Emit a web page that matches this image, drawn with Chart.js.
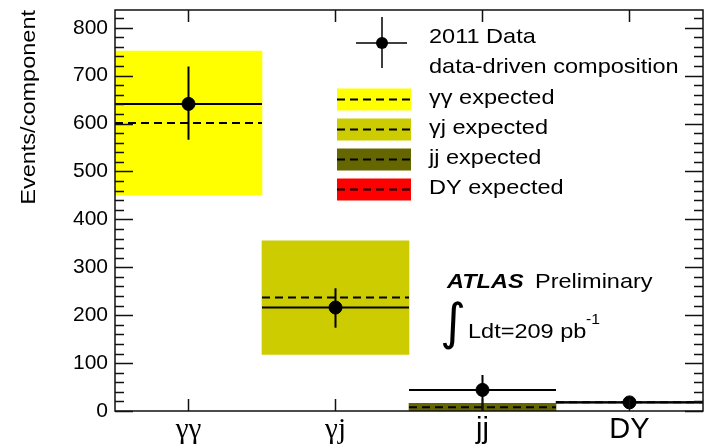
<!DOCTYPE html>
<html>
<head>
<meta charset="utf-8">
<script src="https://cdn.jsdelivr.net/npm/chart.js@4"></script>
<style>
  body { margin: 0; background: #fff; }
  #wrap { width: 704px; height: 445px; }
</style>
</head>
<body>
<div id="wrap"><canvas id="compChart"></canvas></div>
<script>
// values
const categories = ["γγ", "γj", "jj", "DY"];
const dataValues = [641, 216, 44, 18];
const dataErrLow = [566, 174, 0, 14];
const dataErrHigh = [719, 256, 75, 22];
const expectedValues = [601, 237, 8, 18.5];
const bandLow = [451, 118, 0, 17];
const bandHigh = [751, 355, 16, 20];
const bandColors = ["#ffff00", "#cccc00", "#666600", "#ff0000"];
const legendLabels = ["2011 Data", "data-driven composition", "γγ expected", "γj expected", "jj expected", "DY expected"];
const yTitle = "Events/component";
const yTicks = [0, 100, 200, 300, 400, 500, 600, 700, 800];
const yMax = 837;

Chart.defaults.font.family = "'Liberation Sans', Arial, sans-serif";
Chart.defaults.color = "#000";

// horizontal segments across each bin (x in bin units 0..4), broken by nulls
function binSegments(vals) {
  let pts = [];
  vals.forEach((v, i) => {
    pts.push({ x: i, y: v }, { x: i + 1, y: v }, { x: i + 1, y: null });
  });
  return pts;
}
function errorSegments(lo, hi) {
  let pts = [];
  lo.forEach((l, i) => {
    pts.push({ x: i + 0.5, y: l }, { x: i + 0.5, y: hi[i] }, { x: i + 0.5, y: null });
  });
  return pts;
}

function wideText(ctx, text, x, y, font, align) {
  ctx.save();
  ctx.translate(x, y);
  ctx.scale(1.12, 1);
  ctx.font = font;
  ctx.textAlign = align || "left";
  ctx.textBaseline = "middle";
  ctx.fillText(text, 0, 0);
  ctx.restore();
}

// frame with inward ticks, ROOT style
const framePlugin = {
  id: "frame",
  afterDatasetsDraw(chart) {
    const { ctx, chartArea: a, scales } = chart;
    const x = scales.x, y = scales.y;
    ctx.save();
    ctx.strokeStyle = "#111";
    ctx.lineWidth = 1.5;
    ctx.strokeRect(a.left, a.top, a.right - a.left, a.bottom - a.top);
    ctx.beginPath();
    for (let v = 0; v <= y.max; v += 20) {
      const py = Math.round(y.getPixelForValue(v)) + 0.5;
      const len = v % 100 === 0 ? 18 : 9;
      ctx.moveTo(a.left, py); ctx.lineTo(a.left + len, py);
      ctx.moveTo(a.right, py); ctx.lineTo(a.right - len, py);
    }
    categories.forEach((c, i) => {
      const px = x.getPixelForValue(i);
      ctx.moveTo(px, a.bottom); ctx.lineTo(px, a.bottom - 12);
      ctx.moveTo(px, a.top); ctx.lineTo(px, a.top + 12);
    });
    ctx.stroke();
    ctx.restore();
  }
};

// legend, labels and the y title
const textPlugin = {
  id: "texts",
  afterDraw(chart) {
    const ctx = chart.ctx;
    ctx.save();
    ctx.fillStyle = "#000";
    ctx.strokeStyle = "#000";

    // data marker entry
    ctx.lineWidth = 1.5;
    ctx.beginPath();
    ctx.moveTo(356, 43); ctx.lineTo(407, 43);
    ctx.moveTo(382, 17); ctx.lineTo(382, 68);
    ctx.stroke();
    ctx.beginPath();
    ctx.arc(382, 43, 6, 0, Math.PI * 2);
    ctx.fill();

    const rows = [37, 67, 98, 128, 158, 188];
    legendLabels.forEach((lab, i) => {
      wideText(ctx, lab, 429, rows[i], "21px 'Liberation Sans'");
      if (i >= 2) {
        const cy = rows[i] + 1.5;
        ctx.fillStyle = bandColors[i - 2];
        ctx.fillRect(337, cy - 11, 74, 22);
        ctx.fillStyle = "#000";
        ctx.lineWidth = 2;
        ctx.setLineDash([8, 5]);
        ctx.beginPath();
        ctx.moveTo(337, cy); ctx.lineTo(411, cy);
        ctx.stroke();
        ctx.setLineDash([]);
      }
    });

    // ATLAS label
    wideText(ctx, "ATLAS", 447, 282, "italic bold 21px 'Liberation Sans'");
    wideText(ctx, "Preliminary", 535, 282, "21px 'Liberation Sans'");
    ctx.font = "50px 'DejaVu Sans'";
    ctx.textAlign = "center";
    ctx.textBaseline = "middle";
    ctx.fillText("∫", 453, 326);
    wideText(ctx, "Ldt=209 pb", 468, 332, "21px 'Liberation Sans'");
    wideText(ctx, "-1", 586, 320, "14px 'Liberation Sans'");

    // y title, aligned to the top
    ctx.save();
    ctx.translate(29, 10);
    ctx.rotate(-Math.PI / 2);
    ctx.scale(1.12, 1);
    ctx.font = "21px 'Liberation Sans'";
    ctx.textAlign = "right";
    ctx.textBaseline = "middle";
    ctx.fillText(yTitle, 0, 0);
    ctx.restore();

    ctx.restore();
  }
};

const ctx = document.getElementById("compChart").getContext("2d");
new Chart(ctx, {
  type: "bar",
  data: {
    labels: categories,
    datasets: [
      {
        label: "expected band",
        data: bandLow.map((l, i) => [l, bandHigh[i]]),
        backgroundColor: bandColors,
        borderWidth: 0,
        barPercentage: 1,
        categoryPercentage: 1,
        grouped: false,
        order: 4
      },
      {
        type: "line",
        label: "expected",
        xAxisID: "x2",
        data: binSegments(expectedValues),
        borderColor: "#000",
        borderWidth: 2,
        borderDash: [8, 5],
        pointRadius: 0,
        spanGaps: false,
        order: 3
      },
      {
        type: "line",
        label: "data level",
        xAxisID: "x2",
        data: binSegments(dataValues),
        borderColor: "#000",
        borderWidth: 2,
        pointRadius: 0,
        spanGaps: false,
        order: 2
      },
      {
        type: "line",
        label: "data error",
        xAxisID: "x2",
        data: errorSegments(dataErrLow, dataErrHigh),
        borderColor: "#000",
        borderWidth: 2,
        pointRadius: 0,
        spanGaps: false,
        order: 1
      },
      {
        type: "line",
        label: "2011 Data",
        xAxisID: "x2",
        data: dataValues.map((v, i) => ({ x: i + 0.5, y: v })),
        showLine: false,
        pointRadius: 6.5,
        pointBackgroundColor: "#000",
        pointBorderColor: "#000",
        order: 0
      }
    ]
  },
  options: {
    responsive: true,
    maintainAspectRatio: false,
    animation: false,
    layout: { autoPadding: false, padding: { top: 10, right: 1, left: 0, bottom: 0 } },
    plugins: { legend: { display: false }, tooltip: { enabled: false } },
    scales: {
      x: {
        offset: true,
        grid: { display: false, drawTicks: false },
        border: { display: false },
        ticks: {
          padding: 2,
          font: (c) => ({
            size: 29,
            family: c.index < 2 ? "'Liberation Serif'" : "'Liberation Sans'"
          })
        },
        afterFit: (s) => { s.height = 34; s.paddingLeft = 0; s.paddingRight = 0; }
      },
      x2: { type: "linear", min: 0, max: 4, offset: false, display: false },
      y: {
        min: 0,
        max: yMax,
        grid: { display: false, drawTicks: false },
        border: { display: false },
        ticks: { padding: 7, font: { size: 21 } },
        afterBuildTicks: (s) => { s.ticks = yTicks.map(v => ({ value: v })); },
        afterFit: (s) => { s.width = 115; s.paddingTop = 0; s.paddingBottom = 0; }
      }
    }
  },
  plugins: [framePlugin, textPlugin]
});
</script>
</body>
</html>
